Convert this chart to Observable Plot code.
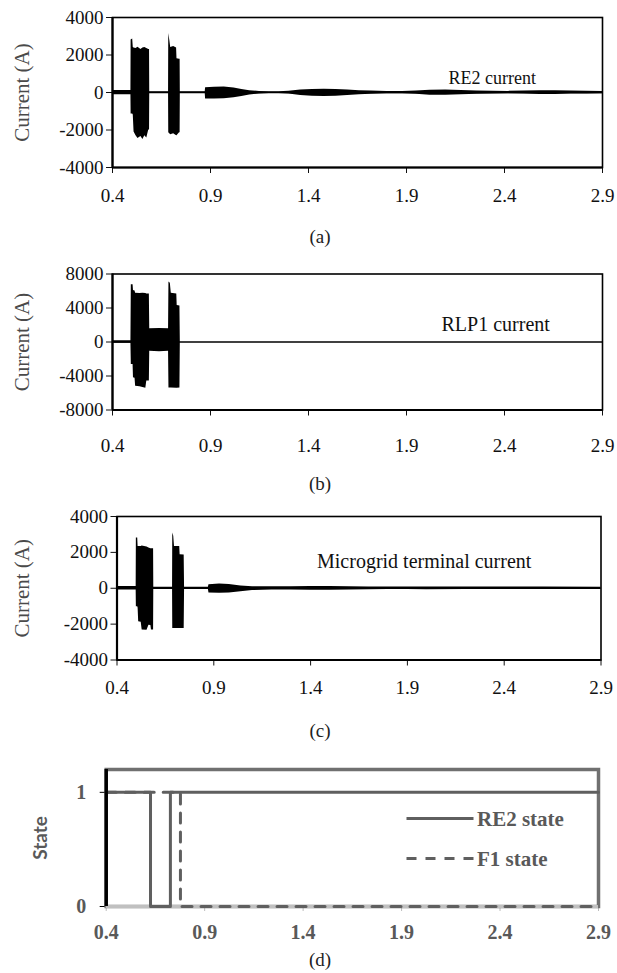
<!DOCTYPE html>
<html>
<head>
<meta charset="utf-8">
<script src="https://cdn.jsdelivr.net/npm/d3@7"></script>
<script src="https://cdn.jsdelivr.net/npm/@observablehq/plot@0.6"></script>
<style>
  html, body { margin: 0; padding: 0; background: #fff; }
  #page { position: relative; width: 617px; height: 973px; overflow: hidden; background: #fff; }
  .panel { position: absolute; left: 0; }
  .caption {
    position: absolute; left: 320px; transform: translate(-50%, -50%);
    font-family: "Liberation Serif", "Times New Roman", serif; font-size: 19px; color: #222;
  }
  #legend { position: absolute; left: 0; top: 0; }
</style>
</head>
<body>
<div id="page"></div>
<script>
// Shared time axis (s)
const xTicks = [0.4, 0.9, 1.4, 1.9, 2.4, 2.9];

// (a) RE2 current envelope: time (s), upper and lower peaks (A)
const re2Time  = [0.400, 0.494, 0.495, 0.503, 0.506, 0.510, 0.520, 0.530, 0.545, 0.555, 0.565, 0.575, 0.585, 0.589, 0.590, 0.686, 0.687, 0.692, 0.697, 0.712, 0.727, 0.729, 0.742, 0.745, 0.746, 0.873, 0.875, 0.92, 0.97, 1.02, 1.06, 1.10, 1.15, 1.20, 1.25, 1.30, 1.36, 1.42, 1.48, 1.54, 1.60, 1.66, 1.72, 1.80, 1.88, 1.95, 2.02, 2.10, 2.18, 2.26, 2.34, 2.42, 2.50, 2.58, 2.66, 2.74, 2.82, 2.90];
const re2Upper = [110, 110, 2800, 2850, 2400, 2380, 2350, 2420, 2300, 2380, 2400, 2350, 2300, 2300, 40, 40, 3150, 2800, 2400, 2450, 2380, 1800, 1780, 1780, 40, 40, 250, 280, 290, 240, 160, 100, 60, 40, 45, 70, 130, 160, 170, 160, 130, 100, 75, 55, 50, 80, 120, 130, 110, 80, 65, 60, 75, 95, 90, 75, 65, 60];
const re2Lower = [-120, -120, -1150, -1150, -1200, -2100, -2300, -2450, -2350, -2500, -2300, -2420, -2000, -2000, -40, -40, -2150, -2200, -2250, -2200, -2300, -2300, -2150, -2150, -40, -40, -350, -350, -330, -280, -210, -130, -75, -50, -55, -85, -160, -200, -210, -200, -165, -125, -90, -65, -60, -95, -140, -150, -125, -90, -75, -70, -85, -105, -100, -85, -75, -70];

// (b) RLP1 current envelope
const rlpTime  = [0.400, 0.494, 0.496, 0.505, 0.507, 0.515, 0.518, 0.540, 0.555, 0.570, 0.575, 0.588, 0.590, 0.640, 0.686, 0.688, 0.695, 0.700, 0.728, 0.730, 0.744, 0.746, 2.900];
const rlpUpper = [150, 150, 6750, 6750, 6050, 6000, 5750, 5700, 5750, 5700, 5650, 5650, 1550, 1600, 1550, 7050, 6900, 5750, 5650, 4300, 4250, 0, 0];
const rlpLower = [-150, -150, -2650, -2650, -4200, -4250, -5200, -5250, -5350, -5450, -4600, -4600, -1100, -1150, -1100, -5400, -5400, -5400, -5450, -5450, -5400, 0, 0];

// (c) Microgrid terminal current envelope
const mgTime  = [0.400, 0.499, 0.500, 0.507, 0.509, 0.512, 0.525, 0.530, 0.555, 0.565, 0.575, 0.578, 0.589, 0.590, 0.687, 0.688, 0.693, 0.697, 0.724, 0.726, 0.747, 0.749, 0.872, 0.875, 0.93, 0.98, 1.04, 1.10, 1.20, 1.30, 1.40, 1.50, 1.60, 1.70, 1.80, 1.90, 2.00, 2.20, 2.40, 2.60, 2.90];
const mgUpper = [100, 100, 2800, 2800, 2330, 2330, 2330, 2350, 2300, 2250, 2200, 2200, 2200, 60, 60, 3080, 2900, 2330, 2330, 1870, 1860, 60, 60, 200, 230, 210, 130, 90, 80, 90, 100, 100, 90, 75, 65, 65, 70, 65, 65, 65, 60];
const mgLower = [-100, -100, -1030, -1030, -1100, -1870, -1900, -2330, -2340, -2060, -2080, -2330, -2330, -60, -60, -2240, -2240, -2240, -2250, -2250, -2240, -60, -60, -260, -280, -260, -200, -130, -95, -100, -110, -110, -100, -85, -75, -75, -80, -75, -75, -75, -70];

// (d) Switching states
const re2StateTime = [0.4, 0.625, 0.726, 2.9];
const re2State     = [1, 0, 1, 1];
const f1StateTime  = [0.4, 0.777, 2.9];
const f1State      = [1, 0, 0];

const zip3 = (t, hi, lo) => t.map((v, i) => ({t: v, hi: hi[i], lo: lo[i]}));
const zip2 = (t, s) => t.map((v, i) => ({t: v, s: s[i]}));

const page = document.getElementById("page");
const serif = "'Liberation Serif', 'Times New Roman', serif";

function currentPanel({rows, yMax, yTicks, title, titleSize, top, mt, ih, mb, ml, mr, tickPad, titleDx, titleDy}) {
  const chart = Plot.plot({
    width: 617,
    height: mt + ih + mb,
    marginTop: mt, marginBottom: mb, marginLeft: ml, marginRight: mr,
    style: {fontFamily: serif, fontSize: "19px", color: "#111", background: "white", overflow: "visible"},
    x: {domain: [0.4, 2.9], ticks: xTicks, tickFormat: d => d.toFixed(1), tickSize: 6, tickPadding: tickPad, label: null},
    y: {domain: [-yMax, yMax], ticks: yTicks, tickFormat: d => String(d), tickSize: 6, tickPadding: 3, label: null},
    marks: [
      Plot.areaY(rows, {x: "t", y1: "lo", y2: "hi", fill: "black", curve: "linear"}),
      Plot.ruleY([0], {stroke: "black", strokeWidth: 1.6}),
      Plot.frame({stroke: "black", strokeWidth: 1.6}),
      Plot.ruleX([0.4], {stroke: "black", strokeWidth: 2.2}),
      Plot.ruleY([-yMax], {stroke: "black", strokeWidth: 2.2}),
      Plot.text([title], {text: d => d, frameAnchor: "top-right", dx: titleDx, dy: titleDy, textAnchor: "start", fontSize: titleSize, fill: "#111"}),
      Plot.text(["Current (A)"], {text: d => d, frameAnchor: "left", textAnchor: "middle", rotate: -90, dx: 22 - ml, fontSize: 21, fill: "#4a4a4a"})
    ]
  });
  chart.classList.add("panel");
  chart.style.top = top + "px";
  page.appendChild(chart);
}

currentPanel({rows: zip3(re2Time, re2Upper, re2Lower), yMax: 4000, yTicks: [-4000, -2000, 0, 2000, 4000],
  title: "RE2 current", titleSize: 18, top: 0, mt: 17, ih: 150, mb: 45, ml: 112, mr: 15, tickPad: 15, titleDx: -154, titleDy: 54});
currentPanel({rows: zip3(rlpTime, rlpUpper, rlpLower), yMax: 8000, yTicks: [-8000, -4000, 0, 4000, 8000],
  title: "RLP1 current", titleSize: 20, top: 250, mt: 23.5, ih: 136, mb: 45, ml: 112, mr: 15, tickPad: 22, titleDx: -161, titleDy: 43});
currentPanel({rows: zip3(mgTime, mgUpper, mgLower), yMax: 4000, yTicks: [-4000, -2000, 0, 2000, 4000],
  title: "Microgrid terminal current", titleSize: 20, top: 490, mt: 26, ih: 143.5, mb: 45, ml: 116.5, mr: 16.5, tickPad: 14, titleDx: -284, titleDy: 37});

// (d) state panel
const gray = "#5f5f5f";
const stateChart = Plot.plot({
  width: 617,
  height: 29 + 137 + 45,
  marginTop: 29, marginBottom: 45, marginLeft: 105.7, marginRight: 19,
  style: {fontFamily: serif, fontSize: "20px", fontWeight: "bold", color: "#595959", background: "white", overflow: "visible"},
  x: {domain: [0.4, 2.9], ticks: xTicks, tickFormat: d => d.toFixed(1), tickSize: 5, tickPadding: 13, label: null},
  y: {domain: [0, 1.2], ticks: [0, 1], tickFormat: d => String(d), tickSize: 6, tickPadding: 14, label: null},
  marks: [
    Plot.frame({stroke: "#707070", strokeWidth: 3.5}),
    Plot.ruleY([0], {stroke: "#c0c0c0", strokeWidth: 3}),
    Plot.lineY(zip2(f1StateTime, f1State), {x: "t", y: "s", curve: "step-after", stroke: gray, strokeWidth: 3, strokeDasharray: "10,9"}),
    Plot.lineY(zip2(re2StateTime, re2State), {x: "t", y: "s", curve: "step-after", stroke: gray, strokeWidth: 3}),
    Plot.ruleX([0.4], {stroke: "black", strokeWidth: 3.5}),
    Plot.text(["State"], {text: d => d, frameAnchor: "left", textAnchor: "middle", rotate: -90, dx: 40 - 105.7, fontFamily: "Lato, 'Open Sans', sans-serif", fontSize: 19, fontWeight: "bold", fill: "#595959"})
  ]
});
stateChart.classList.add("panel");
stateChart.style.top = "740px";
stateChart.querySelectorAll('[aria-label="y-axis tick"]').forEach(g => g.setAttribute("stroke", "black"));
stateChart.querySelectorAll('[aria-label="x-axis tick"]').forEach(g => g.setAttribute("stroke", "#bdbdbd"));
page.appendChild(stateChart);

// legend for (d)
const ns = "http://www.w3.org/2000/svg";
const legend = document.createElementNS(ns, "svg");
legend.setAttribute("id", "legend");
legend.setAttribute("width", 617);
legend.setAttribute("height", 973);
const entries = [
  {label: "RE2 state", y: 818.5, dash: null},
  {label: "F1 state", y: 858.5, dash: "10,9"}
];
for (const e of entries) {
  const line = document.createElementNS(ns, "line");
  line.setAttribute("x1", 406.5); line.setAttribute("x2", 473.5);
  line.setAttribute("y1", e.y); line.setAttribute("y2", e.y);
  line.setAttribute("stroke", gray); line.setAttribute("stroke-width", 3);
  if (e.dash) line.setAttribute("stroke-dasharray", e.dash);
  legend.appendChild(line);
  const text = document.createElementNS(ns, "text");
  text.setAttribute("x", 477); text.setAttribute("y", e.y);
  text.setAttribute("dy", "0.35em");
  text.setAttribute("font-family", serif);
  text.setAttribute("font-size", 21);
  text.setAttribute("font-weight", "bold");
  text.setAttribute("fill", "#595959");
  text.textContent = e.label;
  legend.appendChild(text);
}
page.appendChild(legend);

// captions
[["(a)", 237], ["(b)", 484], ["(c)", 731], ["(d)", 960]].forEach(([t, y]) => {
  const div = document.createElement("div");
  div.className = "caption";
  div.style.top = y + "px";
  div.textContent = t;
  page.appendChild(div);
});
</script>
</body>
</html>
